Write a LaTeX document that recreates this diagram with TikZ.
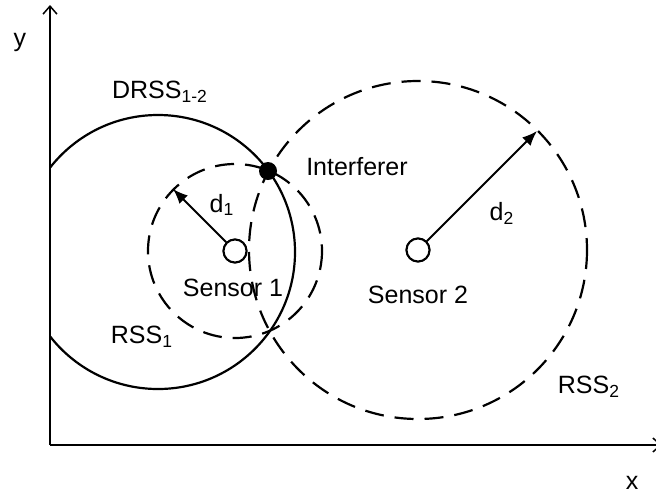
\documentclass[tikz,border=0pt]{standalone}
\usepackage{fontspec}
\setmainfont{Liberation Sans}
\usetikzlibrary{arrows.meta, positioning}

\begin{document}
\begin{tikzpicture}[x=0.5pt, y=-0.5pt,
    axis/.style={line width=0.75pt, -{Straight Barb[length=4pt, width=7pt]}},
    sensor/.style={draw, line width=1pt, circle, fill=white,
                   minimum size=11.5pt, inner sep=0pt},
    dot/.style={circle, fill=black, minimum size=9pt, inner sep=0pt},
    rangeline/.style={line width=1.1pt, dash pattern=on 9.5pt off 5.5pt},
    boundary/.style={line width=1.1pt},
    reach/.style={line width=1pt, -{Latex[length=7.5pt, width=6pt]}},
    lbl/.style={font=\fontsize{12.5}{15}\selectfont, inner sep=0pt}
]
    \useasboundingbox (0,0) rectangle (656,498);

    % Axes
    \coordinate (origin) at (50,445);
    \coordinate (ytop) at (50,5);
    \coordinate (xend) at (662,445);
    \draw[axis] (origin) -- (ytop);
    \draw[axis] (origin) -- (xend);
    \node[lbl] (ylabel) at (20,42) {y};
    \node[lbl] (xlabel) at (632,483) {x};

    % Sensors and interferer
    \node[sensor] (sensor1) at (235,251) {};
    \node[sensor] (sensor2) at (418,250) {};
    \coordinate (drsscenter) at (158,252);

    % Ranges
    \draw[rangeline] (sensor1.center) circle[radius=87];
    \draw[rangeline] (sensor2.center) circle[radius=169];
    \begin{scope}
        \clip (50,0) rectangle (656,498);
        \draw[boundary] (drsscenter) circle[radius=137];
    \end{scope}
    \node[sensor] at (sensor1) {};
    \node[sensor] at (sensor2) {};
    \node[dot] (interferer) at (268,171) {};

    % Distances
    \coordinate (tipone) at (173,189);
    \coordinate (tiptwo) at (537,131);
    \draw[reach] (sensor1) -- (tipone);
    \draw[reach] (sensor2) -- (tiptwo);

    % Labels
    \node[lbl] (drsslabel) at (160,92) {DRSS\textsubscript{1-2}};
    \node[lbl] (interfererlabel) at (357,167) {Interferer};
    \node[lbl] (d1label) at (222,205) {d\textsubscript{1}};
    \node[lbl] (d2label) at (502,213) {d\textsubscript{2}};
    \node[lbl] (sensor1label) at (233,288) {Sensor 1};
    \node[lbl] (sensor2label) at (418,295) {Sensor 2};
    \node[lbl] (rss1label) at (142,337) {RSS\textsubscript{1}};
    \node[lbl] (rss2label) at (589,387) {RSS\textsubscript{2}};
\end{tikzpicture}
\end{document}
